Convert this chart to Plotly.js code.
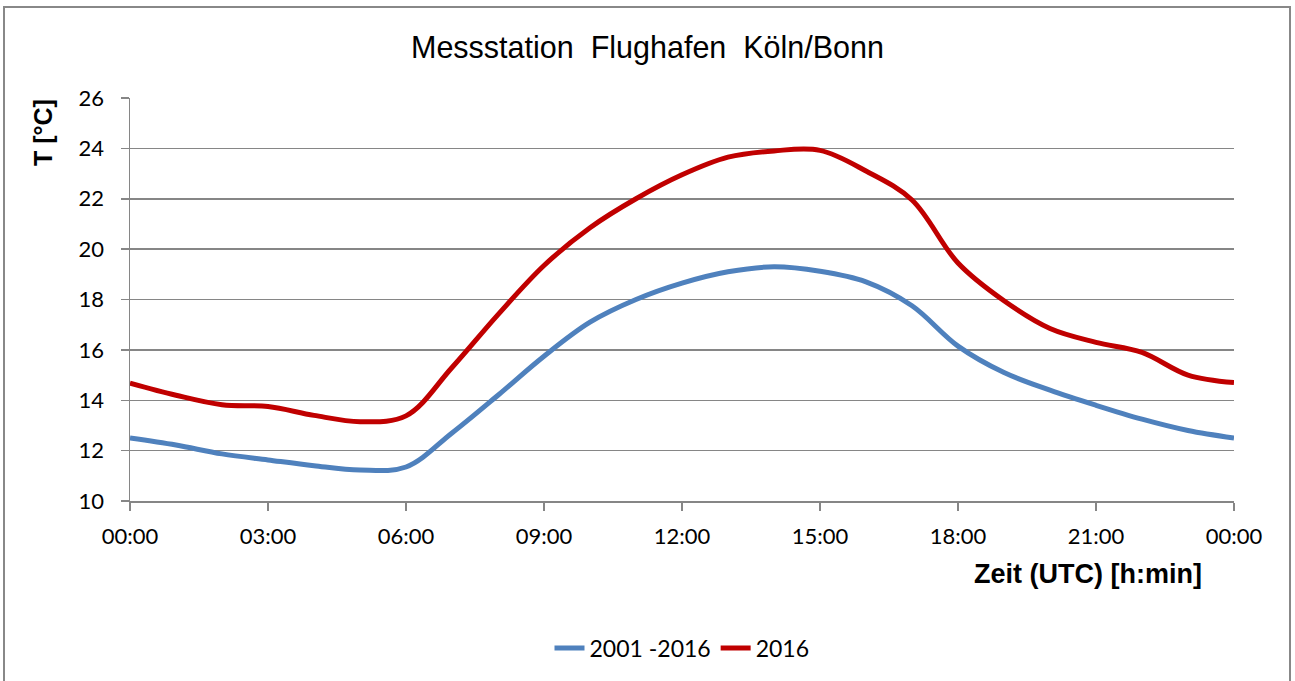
<!DOCTYPE html>
<html>
<head>
<meta charset="utf-8">
<script src="https://cdn.plot.ly/plotly-3.0.1.min.js"></script>
<style>
html,body{margin:0;padding:0;background:#fff;}
#chart{width:1295px;height:681px;}
</style>
</head>
<body>
<div id="chart"></div>
<script>
// hours of the day (0 = 00:00 ... 24 = 00:00 next day)
const hours = [0,1,2,3,4,5,6,7,8,9,10,11,12,13,14,15,16,17,18,19,20,21,22,23,24];
// mean 2001-2016
const tMean = [12.5,12.22,11.87,11.63,11.4,11.23,11.35,12.7,14.2,15.75,17.1,18.0,18.65,19.1,19.3,19.12,18.7,17.75,16.15,15.1,14.4,13.8,13.25,12.8,12.5];
// 2016
const t2016 = [14.68,14.2,13.82,13.75,13.4,13.15,13.38,15.3,17.4,19.35,20.85,22.0,22.95,23.65,23.9,23.92,23.1,21.95,19.45,17.95,16.85,16.3,15.9,15.0,14.7];
const seriesNames = ['2001 -2016','2016'];
const tickHours = [0,3,6,9,12,15,18,21,24];
const tickLabels = ['00:00','03:00','06:00','09:00','12:00','15:00','18:00','21:00','00:00'];
const yTicks = [10,12,14,16,18,20,22,24,26];

const lab = 'Lato, "Liberation Sans", sans-serif';
const ari = '"Liberation Sans", Arial, sans-serif';
const grid = '#868686';

const traces = [
  {x: hours, y: tMean, name: seriesNames[0], type:'scatter', mode:'lines',
   line:{color:'#4f81bd', width:5, shape:'spline', smoothing:1}},
  {x: hours, y: t2016, name: seriesNames[1], type:'scatter', mode:'lines',
   line:{color:'#c00000', width:5, shape:'spline', smoothing:1}}
];

const layout = {
  width:1295, height:681,
  paper_bgcolor:'#fff', plot_bgcolor:'#fff',
  margin:{l:130, r:61, t:98, b:180},
  title:{text:'Messstation  Flughafen  Köln/Bonn', font:{family:ari, size:30.5, color:'#000'},
         x:0.5, xanchor:'center', y:1-47/681, yanchor:'middle', yref:'container'},
  showlegend:true,
  legend:{orientation:'h', x:0.5, xanchor:'center', y:(501-648)/403, yanchor:'middle',
          font:{family:lab, size:23, color:'#000'}, itemwidth:30, tracegroupgap:0},
  xaxis:{range:[0,24], tickvals:tickHours, ticktext:tickLabels, showgrid:false,
         showline:true, linecolor:grid, linewidth:1.5, ticks:'outside', ticklen:8, tickcolor:grid, tickwidth:1.5,
         ticklabelstandoff:7,
         tickfont:{family:lab, size:22, color:'#000'}, zeroline:false, fixedrange:true},
  yaxis:{range:[10,26], tickvals:yTicks, showgrid:true, gridcolor:grid, gridwidth:1.5,
         showline:true, linecolor:grid, linewidth:1.5, ticks:'outside', ticklen:8, tickcolor:grid, tickwidth:1.5,
         ticklabelstandoff:12,
         tickfont:{family:lab, size:22, color:'#000'}, zeroline:false, fixedrange:true},
  annotations:[
    {text:'<b>T [°C]</b>', xref:'paper', yref:'paper', x:(43-130)/1104, y:(501-133)/403,
     xanchor:'center', yanchor:'middle', textangle:-90, showarrow:false,
     font:{family:ari, size:25, color:'#000'}},
    {text:'<b>Zeit (UTC) [h:min]</b>', xref:'paper', yref:'paper', x:(1088-130)/1104, y:(501-574)/403,
     xanchor:'center', yanchor:'middle', showarrow:false,
     font:{family:ari, size:27, color:'#000'}}
  ],
  shapes:[
    {type:'rect', xref:'paper', yref:'paper', x0:(4-130)/1104, x1:(1290-130)/1104,
     y0:(501-690)/403, y1:(501-7)/403, line:{color:'#888', width:2}, fillcolor:'rgba(0,0,0,0)', layer:'below'}
  ]
};

Plotly.newPlot('chart', traces, layout, {displayModeBar:false, staticPlot:true});
</script>
</body>
</html>
